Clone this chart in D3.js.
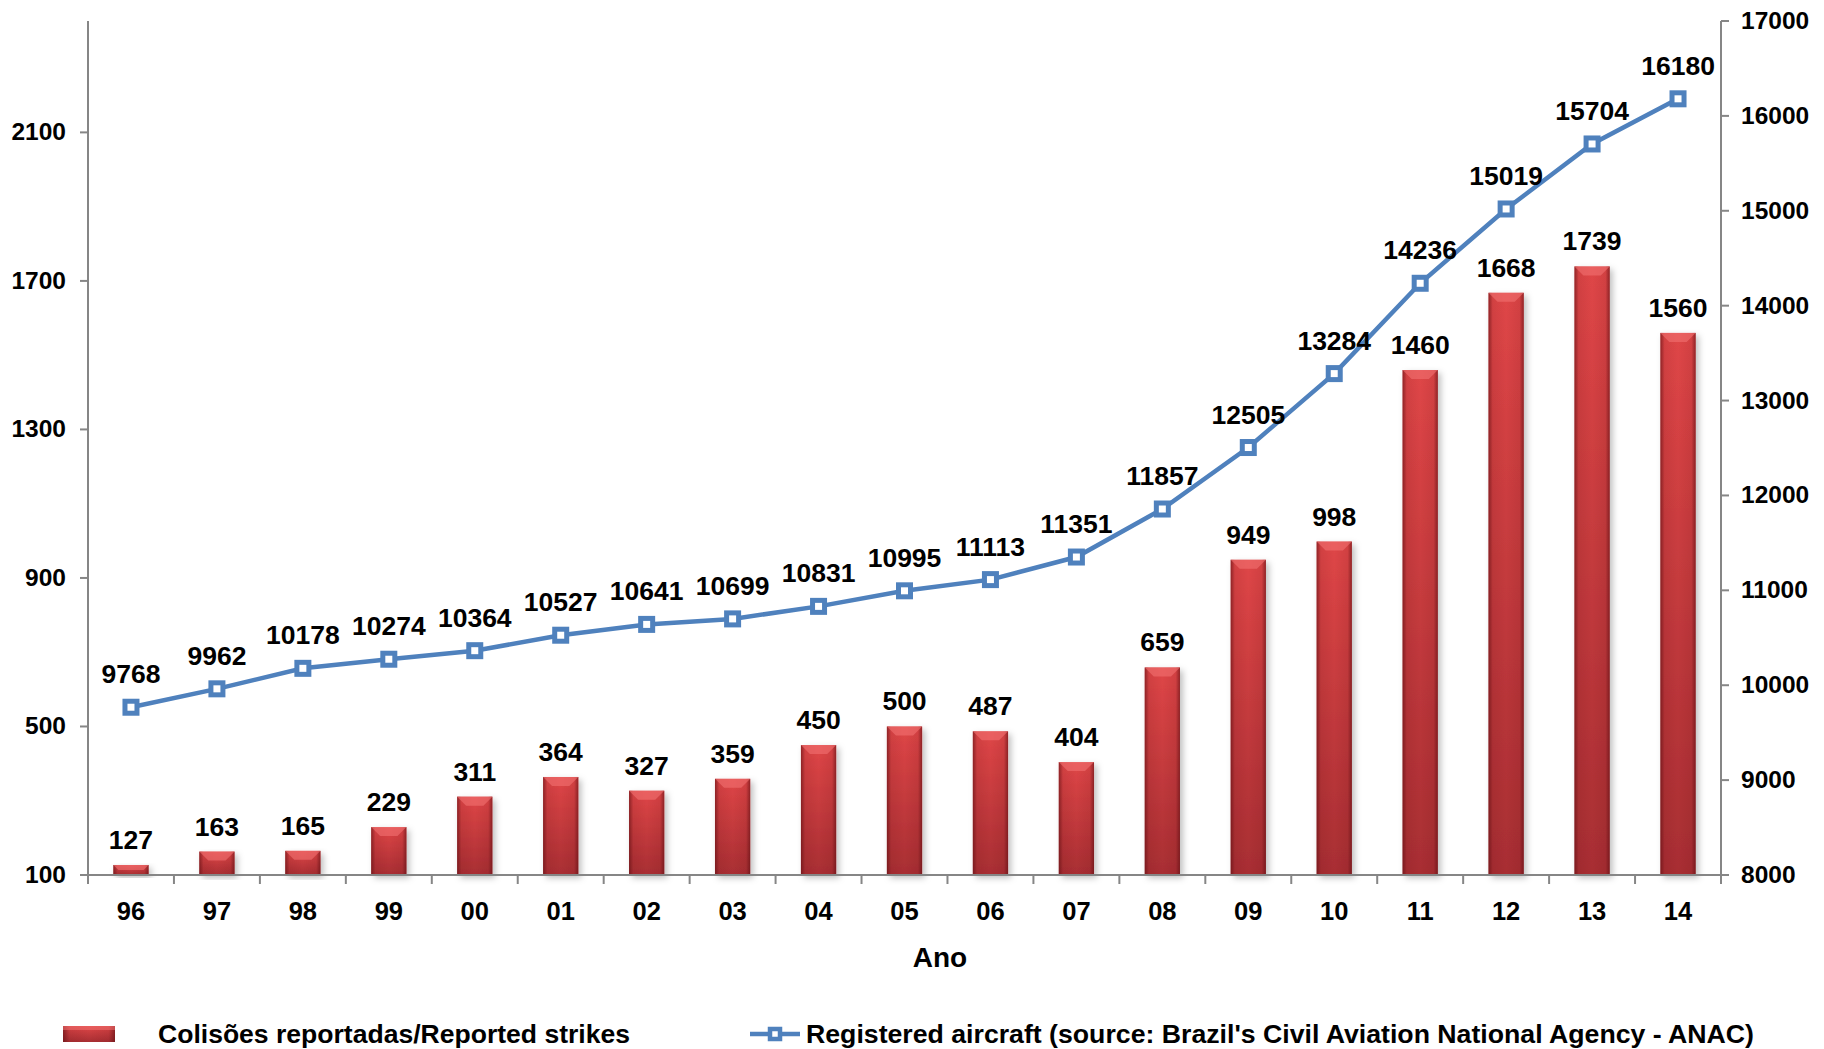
<!DOCTYPE html>
<html>
<head>
<meta charset="utf-8">
<script src="https://cdn.jsdelivr.net/npm/d3@7"></script>
<style>
  body { margin: 0; background: #fff; }
  svg { font-family: "Liberation Sans", Arial, sans-serif; font-weight: bold; }
</style>
</head>
<body>
<svg id="chart" width="1824" height="1049"></svg>
<script>
// data
const years = ['96', '97', '98', '99', '00', '01', '02', '03', '04', '05', '06', '07', '08', '09', '10', '11', '12', '13', '14'];
const strikes = [127, 163, 165, 229, 311, 364, 327, 359, 450, 500, 487, 404, 659, 949, 998, 1460, 1668, 1739, 1560];
const aircraft = [9768, 9962, 10178, 10274, 10364, 10527, 10641, 10699, 10831, 10995, 11113, 11351, 11857, 12505, 13284, 14236, 15019, 15704, 16180];
const leftTicks = [100, 500, 900, 1300, 1700, 2100];
const rightTicks = [8000, 9000, 10000, 11000, 12000, 13000, 14000, 15000, 16000, 17000];
const barName = 'Colisões reportadas/Reported strikes';
const lineName = "Registered aircraft (source: Brazil's Civil Aviation National Agency - ANAC)";

const plotL = 88, plotR = 1721, plotT = 21, plotB = 875;
const axisColor = '#868686';
const blue = '#4F81BD';

const svg = d3.select('#chart');
const defs = svg.append('defs');

// bar shading: vertical body + darker sides
const gv = defs.append('linearGradient').attr('id', 'barV').attr('x1', 0).attr('y1', 0).attr('x2', 0).attr('y2', 1);
gv.append('stop').attr('offset', '0%').attr('stop-color', '#DF4647');
gv.append('stop').attr('offset', '100%').attr('stop-color', '#A82E33');
const gh = defs.append('linearGradient').attr('id', 'barH');
gh.append('stop').attr('offset', '0%').attr('stop-color', '#5a0c10').attr('stop-opacity', 0.6);
gh.append('stop').attr('offset', '12%').attr('stop-color', '#5a0c10').attr('stop-opacity', 0.1);
gh.append('stop').attr('offset', '50%').attr('stop-color', '#5a0c10').attr('stop-opacity', 0);
gh.append('stop').attr('offset', '88%').attr('stop-color', '#5a0c10').attr('stop-opacity', 0.1);
gh.append('stop').attr('offset', '100%').attr('stop-color', '#5a0c10').attr('stop-opacity', 0.6);
const shadow = defs.append('filter').attr('id', 'shadow').attr('x', '-30%').attr('y', '-10%').attr('width', '160%').attr('height', '130%');
shadow.append('feDropShadow').attr('dx', 3).attr('dy', 3).attr('stdDeviation', 3)
  .attr('flood-color', '#000').attr('flood-opacity', 0.25);

const x = d3.scaleBand().domain(years).range([plotL, plotR]);
const yL = d3.scaleLinear().domain([100, 2400]).range([plotB, plotT]);
const yR = d3.scaleLinear().domain([8000, 17000]).range([plotB, plotT]);
const bw = x.bandwidth() * 0.41;

// axes lines
svg.append('line').attr('x1', plotL).attr('x2', plotL).attr('y1', plotT).attr('y2', plotB)
  .attr('stroke', axisColor).attr('stroke-width', 2);
svg.append('line').attr('x1', plotR).attr('x2', plotR).attr('y1', plotT).attr('y2', plotB)
  .attr('stroke', axisColor).attr('stroke-width', 2);

// left ticks
const gl = svg.append('g');
gl.selectAll('line').data(leftTicks).enter().append('line')
  .attr('x1', plotL - 8).attr('x2', plotL).attr('y1', d => yL(d)).attr('y2', d => yL(d))
  .attr('stroke', axisColor).attr('stroke-width', 2);
gl.selectAll('text').data(leftTicks).enter().append('text')
  .attr('x', 66).attr('y', d => yL(d) + 8).attr('text-anchor', 'end')
  .attr('font-size', 24.5).text(d => d);

// right ticks
const gr = svg.append('g');
gr.selectAll('line').data(rightTicks).enter().append('line')
  .attr('x1', plotR).attr('x2', plotR + 8).attr('y1', d => yR(d)).attr('y2', d => yR(d))
  .attr('stroke', axisColor).attr('stroke-width', 2);
gr.selectAll('text').data(rightTicks).enter().append('text')
  .attr('x', 1741).attr('y', d => yR(d) + 8)
  .attr('font-size', 24.5).text(d => d);

// bars
const bars = svg.append('g').selectAll('g').data(strikes).enter().append('g');
bars.append('rect')
  .attr('x', (d, i) => x(years[i]) + (x.bandwidth() - bw) / 2)
  .attr('y', d => yL(d)).attr('width', bw).attr('height', d => plotB - yL(d))
  .attr('fill', 'url(#barV)').attr('filter', 'url(#shadow)');
bars.append('rect')
  .attr('x', (d, i) => x(years[i]) + (x.bandwidth() - bw) / 2)
  .attr('y', d => yL(d)).attr('width', bw).attr('height', d => plotB - yL(d))
  .attr('fill', 'url(#barH)');
// top bevel
bars.append('path')
  .attr('d', (d, i) => {
    const x0 = x(years[i]) + (x.bandwidth() - bw) / 2, y0 = yL(d);
    const h = Math.min(9, (plotB - y0) / 2);
    return `M${x0},${y0}L${x0 + bw},${y0}L${x0 + bw - h},${y0 + h}L${x0 + h},${y0 + h}Z`;
  })
  .attr('fill', '#F27272').attr('opacity', 0.6);
bars.append('text')
  .attr('x', (d, i) => x(years[i]) + x.bandwidth() / 2)
  .attr('y', d => yL(d) - 16).attr('text-anchor', 'middle')
  .attr('font-size', 26.5).text(d => d);

// x axis
svg.append('line').attr('x1', plotL).attr('x2', plotR).attr('y1', plotB).attr('y2', plotB)
  .attr('stroke', axisColor).attr('stroke-width', 2);
svg.append('g').selectAll('line').data(years.concat(['end'])).enter().append('line')
  .attr('x1', (d, i) => plotL + i * x.step()).attr('x2', (d, i) => plotL + i * x.step())
  .attr('y1', plotB).attr('y2', plotB + 9)
  .attr('stroke', axisColor).attr('stroke-width', 2);
svg.append('g').selectAll('text').data(years).enter().append('text')
  .attr('x', d => x(d) + x.bandwidth() / 2).attr('y', 920).attr('text-anchor', 'middle')
  .attr('font-size', 25.5).text(d => d);
svg.append('text').attr('x', 940).attr('y', 967).attr('text-anchor', 'middle')
  .attr('font-size', 28).text('Ano');

// line series
const line = d3.line().x((d, i) => x(years[i]) + x.bandwidth() / 2).y(d => yR(d));
svg.append('path').datum(aircraft).attr('d', line)
  .attr('fill', 'none').attr('stroke', blue).attr('stroke-width', 4.5);
const pts = svg.append('g').selectAll('g').data(aircraft).enter().append('g')
  .attr('transform', (d, i) => `translate(${x(years[i]) + x.bandwidth() / 2},${yR(d)})`);
pts.append('rect').attr('x', -6).attr('y', -6).attr('width', 12).attr('height', 12)
  .attr('fill', '#fff').attr('stroke', blue).attr('stroke-width', 5);
pts.append('text').attr('y', -24).attr('text-anchor', 'middle')
  .attr('font-size', 26.5).text(d => d);

// legend
const lg = svg.append('g');
lg.append('rect').attr('x', 63).attr('y', 1026).attr('width', 52).attr('height', 16)
  .attr('fill', 'url(#barV)');
lg.append('rect').attr('x', 63).attr('y', 1026).attr('width', 52).attr('height', 16)
  .attr('fill', 'url(#barH)');
lg.append('rect').attr('x', 63).attr('y', 1026).attr('width', 52).attr('height', 4)
  .attr('fill', '#F07070').attr('opacity', 0.55);
lg.append('text').attr('x', 158).attr('y', 1043).attr('font-size', 25.5)
  .attr('textLength', 472).attr('lengthAdjust', 'spacingAndGlyphs').text(barName);
lg.append('line').attr('x1', 750).attr('x2', 800).attr('y1', 1034).attr('y2', 1034)
  .attr('stroke', blue).attr('stroke-width', 4.5);
lg.append('rect').attr('x', 770).attr('y', 1029).attr('width', 10).attr('height', 10)
  .attr('fill', '#fff').attr('stroke', blue).attr('stroke-width', 4.5);
lg.append('text').attr('x', 806).attr('y', 1043).attr('font-size', 25.5)
  .attr('textLength', 948).attr('lengthAdjust', 'spacingAndGlyphs').text(lineName);
</script>
</body>
</html>
